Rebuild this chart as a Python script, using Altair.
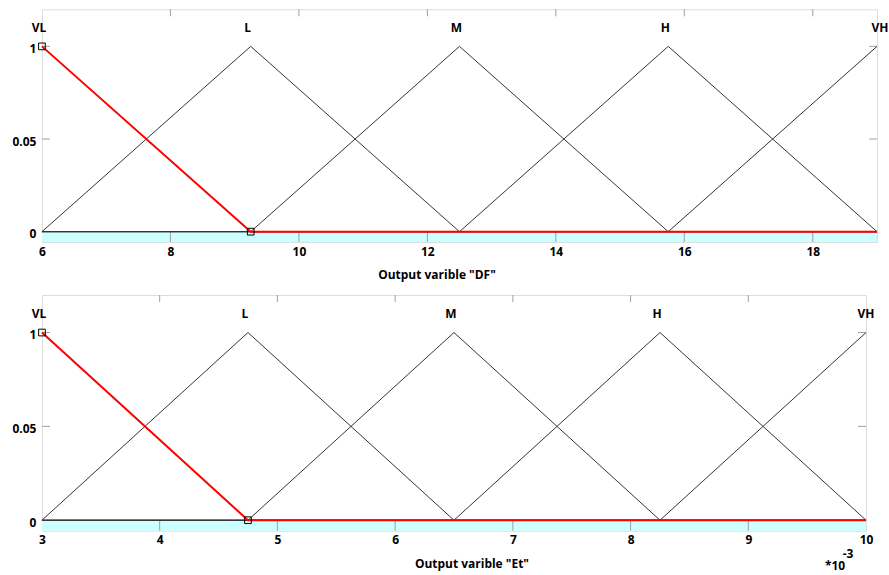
import altair as alt
import pandas as pd

# ---------------- data ----------------
mf_labels = ["VL", "L", "M", "H", "VH"]
df_peaks = [6, 9.25, 12.5, 15.75, 19]
et_peaks = [3, 4.75, 6.5, 8.25, 10]
df_ticks = [6, 8, 10, 12, 14, 16, 18]
et_ticks = [3, 4, 5, 6, 7, 8, 9, 10]
y_ticks = [0, 0.5, 1]
y_tick_labels = ["0", "0.05", "1"]
titles = ['Output varible "DF"', 'Output varible "Et"']
exp_base = "*10"
exp_power = "-3"

# ---------------- style ----------------
FONT = "Open Sans"
CYAN = "#ccffff"
FRAME = "#a0a0a0"
LINE = "#333333"
RED = "#ff0000"
Y_MIN, Y_MAX = -0.056, 1.2
LABEL_Y = 1.1

label_expr = " : ".join(
    f"datum.value == {v} ? '{t}'" for v, t in zip(y_ticks[:-1], y_tick_labels[:-1])
) + f" : '{y_tick_labels[-1]}'"


def mf_table(peaks):
    lo, hi = peaks[0], peaks[-1]
    n = len(peaks)
    rows = []
    for i, name in enumerate(mf_labels):
        pts = []
        if i >= 2:
            pts.append((lo, 0))
        if i >= 1:
            pts.append((peaks[i - 1], 0))
        pts.append((peaks[i], 1))
        if i <= n - 2:
            pts.append((peaks[i + 1], 0))
        if i <= n - 3:
            pts.append((hi, 0))
        for k, (x, y) in enumerate(pts):
            rows.append({"mf": name, "k": k, "x": x, "y": y})
    return pd.DataFrame(rows)


def panel(peaks, ticks, title, width, height, title_x, title_y, last_dx, exponent=False):
    lo, hi = peaks[0], peaks[-1]
    xs = alt.Scale(domain=[lo, hi], nice=False, zero=False)
    ys = alt.Scale(domain=[Y_MIN, Y_MAX], nice=False, zero=False)
    xa = alt.Axis(
        values=ticks, ticks=False, domain=False, grid=False, labelFlush=False,
        labelFont=FONT, labelFontSize=12, labelFontWeight="bold", labelColor="black",
        labelPadding=4, title=title, titleFont=FONT, titleFontSize=12,
        titleFontWeight="bold", titleColor="black", titleX=title_x, titleY=title_y,
        titleBaseline="middle", titleAlign="center",
    )
    ya = alt.Axis(
        values=y_ticks, labelExpr=label_expr, ticks=False, domain=False, grid=False,
        labelFont=FONT, labelFontSize=12, labelFontWeight="bold", labelColor="black",
        labelPadding=6, labelOffset=2, title=None,
    )

    def X(f="x"):
        return alt.X(f"{f}:Q", scale=xs, axis=xa, title=title)

    def Y(f="y"):
        return alt.Y(f"{f}:Q", scale=ys, axis=ya, title=None)

    band = alt.Chart(pd.DataFrame({"x": [lo], "x2": [hi], "y": [Y_MIN], "y2": [0]})).mark_rect(
        color=CYAN
    ).encode(x=X(), x2="x2", y=Y(), y2="y2")

    tick_df = pd.DataFrame({"x": ticks})
    inner_ticks = tick_df[(tick_df.x > lo) & (tick_df.x < hi)]
    bottom_ticks = alt.Chart(inner_ticks).mark_rule(color=FRAME, strokeWidth=1).encode(
        x=X(), y=alt.value(height - 10), y2=alt.value(height)
    )
    top_ticks = alt.Chart(inner_ticks).mark_rule(color=FRAME, strokeWidth=1).encode(
        x=X(), y=alt.value(0), y2=alt.value(7)
    )
    ytick_df = pd.DataFrame({"y": [v for v in y_ticks if v > 0]})
    left_ticks = alt.Chart(ytick_df).mark_rule(color=FRAME, strokeWidth=1).encode(
        y=Y(), x=alt.value(0), x2=alt.value(8)
    )
    right_ticks = alt.Chart(ytick_df).mark_rule(color=FRAME, strokeWidth=1).encode(
        y=Y(), x=alt.value(width - 8), x2=alt.value(width)
    )

    mfs = alt.Chart(mf_table(peaks)).mark_line(color=LINE, strokeWidth=1).encode(
        x=X(), y=Y(), detail="mf:N", order="k:Q",
    )

    red_df = pd.DataFrame({"x": [peaks[0], peaks[1], hi], "y": [1, 0, 0], "k": [0, 1, 2]})
    red = alt.Chart(red_df).mark_line(color=RED, strokeWidth=2).encode(
        x=X(), y=Y(), order="k:Q",
    )
    sq = alt.Chart(red_df.iloc[:2]).mark_point(
        shape="square", filled=False, color="black", size=45, strokeWidth=1, opacity=1
    ).encode(x=X(), y=Y())

    lab_df = pd.DataFrame({"x": peaks, "y": [LABEL_Y] * len(peaks), "t": mf_labels})
    labs = alt.Chart(lab_df.iloc[:-1]).mark_text(
        font=FONT, fontSize=12, fontWeight="bold", color="black", dx=-3, baseline="middle"
    ).encode(x=X(), y=Y(), text="t:N")
    lab_last = alt.Chart(lab_df.iloc[-1:]).mark_text(
        font=FONT, fontSize=12, fontWeight="bold", color="black", dx=last_dx,
        baseline="middle", align="center"
    ).encode(x=X(), y=Y(), text="t:N")

    layers = [band, bottom_ticks, top_ticks, left_ticks, right_ticks, mfs, red, sq, labs, lab_last]
    if exponent:
        one = pd.DataFrame({"a": [0]})
        e1 = alt.Chart(one).mark_text(
            text=exp_base, font=FONT, fontSize=12, fontWeight="bold", color="black",
            baseline="middle"
        ).encode(x=alt.value(width - 31), y=alt.value(height + 35))
        e2 = alt.Chart(one).mark_text(
            text=exp_power, font=FONT, fontSize=12, fontWeight="bold", color="black",
            baseline="middle"
        ).encode(x=alt.value(width - 18), y=alt.value(height + 23))
        layers += [e1, e2]
    return alt.layer(*layers).properties(width=width, height=height)


top = panel(df_peaks, df_ticks, titles[0], 836, 233, 395, 32, 3)
bottom = panel(et_peaks, et_ticks, titles[1], 825, 236, 430, 33, 0, exponent=True)

chart = alt.vconcat(top, bottom, spacing=13).resolve_scale(
    x="independent", y="independent"
).properties(
    padding={"left": 11, "top": 8, "right": 0, "bottom": 0}
).configure_view(
    stroke=FRAME, strokeWidth=1
).configure(background="white")

chart.save("out.html", embed_options={"renderer": "svg", "actions": False})
